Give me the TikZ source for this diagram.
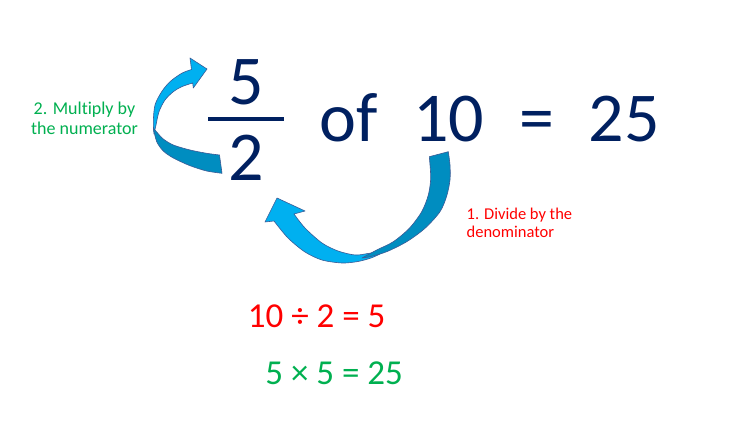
\documentclass[tikz,border=0pt]{standalone}
\usepackage{fontspec}
\setmainfont{Carlito}[Ligatures=NoCommon]
\definecolor{navy}{HTML}{002060}
\definecolor{lblue}{HTML}{00B0F0}
\definecolor{dblue}{HTML}{008DC0}
\definecolor{edge}{HTML}{3A5A96}
\definecolor{ored}{HTML}{FF0000}
\definecolor{ogreen}{HTML}{00B050}
\tikzset{
  frontface/.style={fill=lblue,draw=edge,line width=0.6pt,line join=round},
  backface/.style={fill=dblue,draw=edge,line width=0.6pt,line join=round},
  big/.style={inner sep=0pt,anchor=base,text=navy,font=\fontsize{70}{80}\selectfont},
  lab/.style={inner sep=0pt,anchor=base,align=center},
  eq/.style={inner sep=0pt,anchor=base,font=\fontsize{35}{40}\selectfont},
}
\begin{document}
\begin{tikzpicture}[x=1pt,y=-1pt]
\useasboundingbox[fill=white] (0,0) rectangle (729,427);
% fraction and main text
\node[big] (num) at (246.5,105) {5};
\node[big] (den) at (246,180.7) {2};
\draw[navy,line width=4.3pt] (208.3,118.8) coordinate (barL) -- (284,118.8) coordinate (barR);
\node[big] (of) at (348.5,141.7) {of};
\node[big] (ten) at (448.5,141.7) {10};
\node[big] (eqs) at (537.3,141.7) {=};
\node[big] (res) at (624,141.7) {25};
% left arrow (multiply)
\path[frontface] plot[smooth] coordinates {(154,134) (153.3,121.7) (155,105) (161.7,91.7) (170,81.7) (181.7,73.3) (191.5,69.5)}
  -- (190,58) -- (207,69) -- (193.3,88) --
  plot[smooth] coordinates {(192.7,83) (181.7,86.7) (173.3,91.7) (165,100) (159,111.7) (156,125) (154,134)} -- cycle;
\path[backface] (219.5,155) -- (222,173.3) --
  plot[smooth] coordinates {(222,173.3) (206.7,171) (190,165.7) (173.3,158) (163.3,151) (156.7,141.7) (153.3,128)} --
  plot[smooth] coordinates {(153.3,128) (156.7,132) (163.3,139) (173.3,145) (190,150) (206.7,153.3) (219.5,155)} -- cycle;
% right arrow (divide)
\path[frontface] plot[smooth] coordinates {(380,254) (371,258) (358,261.5) (342,263) (322,260) (305,252) (288,238) (274,221)}
  -- (265,222) -- (277,198) -- (305,211) --
  plot[smooth] coordinates {(294,214) (305,228) (322,243) (338,251) (355,255) (368,253.5) (380,251.5)} -- cycle;
\path[backface] (429.3,156.7) -- (448.3,151.7) --
  plot[smooth] coordinates {(448.3,151.7) (450,165) (450,180) (446.7,196) (440,211.7) (425,228.3) (406.7,241.7) (386.7,251.7) (370,256.7) (362,258)} --
  plot[smooth] coordinates {(362,258) (376.7,250) (393.3,241.7) (409.3,228.3) (421.7,211.7) (428.3,195) (430.7,178) (429.3,156.7)} -- cycle;
% labels
\node[lab,text=ogreen,font=\fontsize{18}{20}\selectfont] (mul) at (84.5,135) {2. Multiply by\\the numerator};
\node[lab,text=ored,font=\fontsize{16.5}{18.3}\selectfont,align=left,anchor=base west] (div) at (466.5,238) {1. Divide by the\\denominator};
% equations
\node[eq,text=ored] (e1) at (316.7,327.3) {10 ÷ 2 = 5};
\node[eq,text=ogreen] (e2) at (334.2,385) {5 × 5 = 25};
\end{tikzpicture}
\end{document}
